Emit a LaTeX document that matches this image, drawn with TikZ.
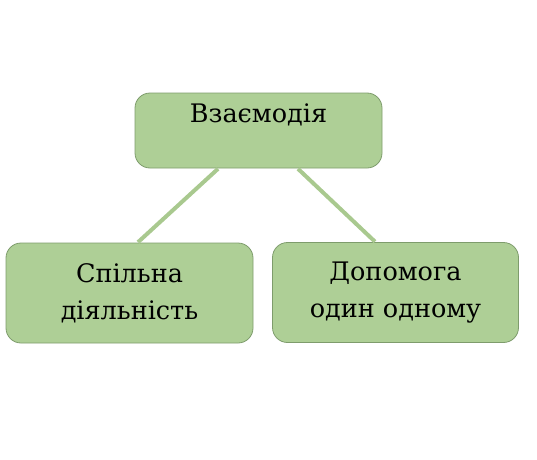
\documentclass[tikz,border=0pt]{standalone}
\usepackage{fontspec}
\setmainfont{DejaVu Serif}
\usepackage{xcolor}
\usetikzlibrary{positioning}
\definecolor{boxgreen}{HTML}{AECF96}
\definecolor{boxedge}{HTML}{7E9C6C}
\definecolor{linkgreen}{HTML}{A9C98F}

\begin{document}
\begin{tikzpicture}[x=1pt,y=1pt,
  box/.style={draw=boxedge,line width=0.8pt,fill=boxgreen,rounded corners=15pt,
    font=\fontsize{25.5}{37}\selectfont,align=center,inner sep=0pt},
  link/.style={draw=linkgreen,line width=4pt}]
\useasboundingbox (0,0) rectangle (537,459);
\node[box,minimum width=247,minimum height=75] (top) at (258.5,328.5) {};
\node[anchor=north,font=\fontsize{25.5}{37}\selectfont,inner sep=0pt] (toptext) at ([yshift=-11]top.north) {Взаємодія};
\node[box,minimum width=247,minimum height=100] (joint) at (129.5,166) {Спільна\\діяльність};
\node[box,minimum width=246,minimum height=100] (help) at (395.5,166.5) {Допомога\\один одному};
\draw[link] ([xshift=-40.5,yshift=-0.4]top.south) -- ([xshift=8.5,yshift=0.4]joint.north);
\draw[link] ([xshift=39.5,yshift=-0.4]top.south) -- ([xshift=-20.5,yshift=0.4]help.north);
\end{tikzpicture}
\end{document}
